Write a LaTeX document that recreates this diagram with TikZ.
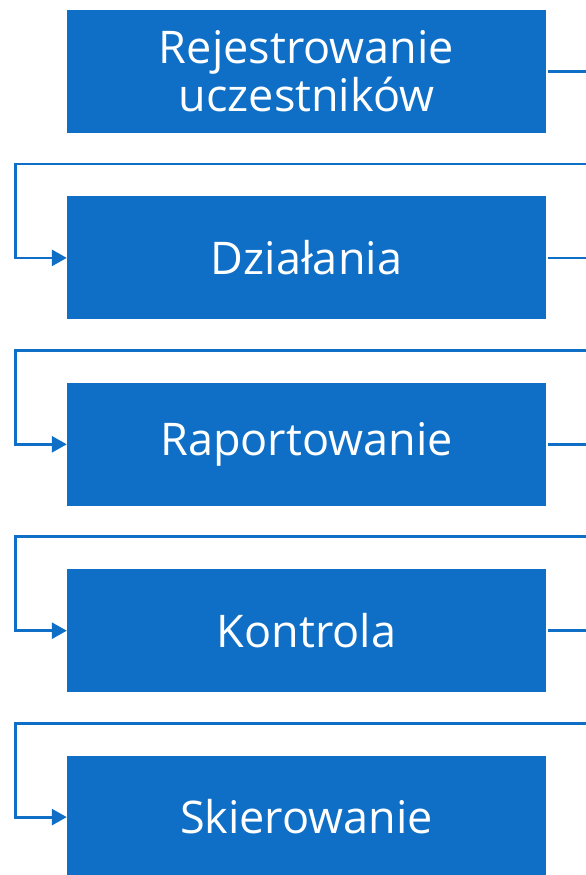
\documentclass[tikz,border=0pt]{standalone}
\usepackage{fontspec}
\setsansfont{Open Sans}
\usetikzlibrary{positioning,arrows.meta}
\definecolor{stepblue}{RGB}{15,111,198}
\tikzset{
  stepbox/.style={fill=stepblue, draw=none, minimum width=479pt, minimum height=123pt,
    text=white, align=center, font=\sffamily\fontsize{45}{48}\selectfont},
  link/.style={draw=stepblue, line width=2.8pt, -{Triangle[length=15pt,width=16pt]}}
}
\begin{document}
\begin{tikzpicture}[x=1pt,y=-1pt,node distance=63pt]
	\useasboundingbox (0,0) rectangle (586,875);
	\clip (0,0) rectangle (586,875);
	\node[stepbox] (b1) at (306.5,71.5) {Rejestrowanie\\uczestników};
	\node[stepbox, below=of b1] (b2) {Działania};
	\node[stepbox, below=of b2] (b3) {Raportowanie};
	\node[stepbox, below=of b3] (b4) {Kontrola};
	\node[stepbox, below=of b4] (b5) {Skierowanie};
	% petle miedzy krokami (prawa strona wychodzi poza kadr)
	\foreach \i/\j in {1/2,2/3,3/4,4/5}
		\draw[link] ([xshift=1.5pt]b\i.east) -- ++(60,0) -- ++(0,92.5) -| ([xshift=-51pt]b\j.west) -- (b\j.west);
\end{tikzpicture}
\end{document}
